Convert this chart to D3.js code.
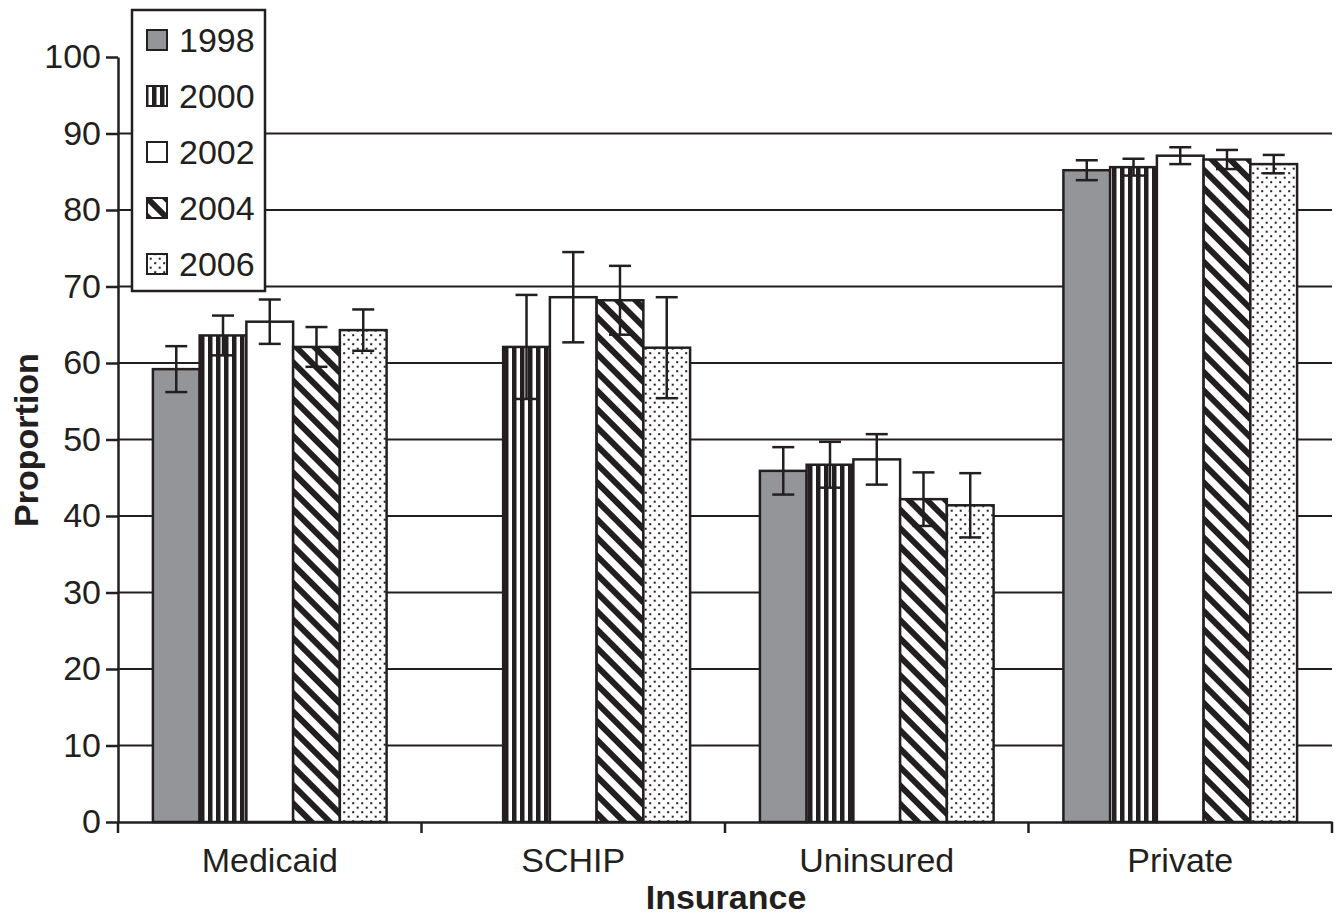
<!DOCTYPE html>
<html><head><meta charset="utf-8">
<script src="https://cdn.jsdelivr.net/npm/d3@7/dist/d3.min.js"></script>
<style>body{margin:0;background:#fff}svg{display:block}text{font-family:"Liberation Sans",Arial,sans-serif;fill:#231f20}</style>
</head><body><svg id="c" width="1342" height="917"></svg>
<script>
const categories = ["Medicaid", "SCHIP", "Uninsured", "Private"];
const years = ["1998", "2000", "2002", "2004", "2006"];
const values1998 = [59.2, null, 45.9, 85.2];
const values2000 = [63.6, 62.1, 46.7, 85.6];
const values2002 = [65.4, 68.6, 47.4, 87.1];
const values2004 = [62.1, 68.2, 42.2, 86.6];
const values2006 = [64.3, 62.0, 41.4, 86.0];
const errors1998 = [3.0, null, 3.1, 1.3];
const errors2000 = [2.6, 6.8, 3.0, 1.1];
const errors2002 = [2.9, 5.9, 3.3, 1.1];
const errors2004 = [2.6, 4.5, 3.5, 1.25];
const errors2006 = [2.7, 6.6, 4.2, 1.2];
const yTicks = [0,10,20,30,40,50,60,70,80,90,100];
const gridTicks = [10,20,30,40,50,60,70,80,90];

const seriesVals = [values1998, values2000, values2002, values2004, values2006];
const seriesErr = [errors1998, errors2000, errors2002, errors2004, errors2006];
const data = [];
categories.forEach((c, ci) => years.forEach((y, yi) => {
  if (seriesVals[yi][ci] != null) data.push({cat: c, year: y, yi, v: seriesVals[yi][ci], e: seriesErr[yi][ci]});
}));

const ink = "#231f20";
const FONT = "Liberation Sans, Arial, sans-serif";
const svg = d3.select("#c");
const defs = svg.append("defs");
// patterns
const pV = defs.append("pattern").attr("id","pat2000").attr("patternUnits","userSpaceOnUse").attr("width",8).attr("height",10);
pV.append("rect").attr("width",8).attr("height",10).attr("fill","#fff");
pV.append("rect").attr("x",0).attr("width",4.5).attr("height",10).attr("fill",ink);
const pD = defs.append("pattern").attr("id","pat2004").attr("patternUnits","userSpaceOnUse").attr("width",13).attr("height",10).attr("patternTransform","rotate(-45)");
pD.append("rect").attr("width",13).attr("height",10).attr("fill","#fff");
pD.append("rect").attr("x",0).attr("width",6).attr("height",10).attr("fill",ink);
const pS = defs.append("pattern").attr("id","pat2006").attr("patternUnits","userSpaceOnUse").attr("width",9).attr("height",9);
pS.append("rect").attr("width",9).attr("height",9).attr("fill","#fff");
pS.append("rect").attr("x",1.2).attr("y",1.2).attr("width",2).attr("height",2).attr("fill",ink);
pS.append("rect").attr("x",5.7).attr("y",5.7).attr("width",2).attr("height",2).attr("fill",ink);
const fills = {"1998":"#939598","2000":"url(#pat2000)","2002":"#ffffff","2004":"url(#pat2004)","2006":"url(#pat2006)"};

const y = d3.scaleLinear().domain([0,100]).range([822,57]);
const x0 = d3.scaleBand().domain(categories).range([118,1332]).padding(0);
const bw = x0.bandwidth();
const x1 = d3.scaleBand().domain(years).range([bw*0.115, bw*0.885]).padding(0);

// gridlines
svg.append("g").selectAll("line").data(gridTicks).join("line")
  .attr("x1",118).attr("x2",1332).attr("y1",d=>y(d)).attr("y2",d=>y(d))
  .attr("stroke",ink).attr("stroke-width",2);

// bars
svg.append("g").selectAll("rect").data(data).join("rect")
  .attr("x", d => x0(d.cat) + x1(d.year))
  .attr("width", x1.bandwidth())
  .attr("y", d => y(d.v))
  .attr("height", d => y(0) - y(d.v))
  .attr("fill", d => fills[d.year])
  .attr("stroke", ink).attr("stroke-width", 2.5);

// error bars
const eg = svg.append("g").attr("stroke", ink).attr("stroke-width", 2.5);
data.forEach(d => {
  const cx = x0(d.cat) + x1(d.year) + x1.bandwidth()/2;
  eg.append("line").attr("x1",cx).attr("x2",cx).attr("y1",y(d.v+d.e)).attr("y2",y(d.v-d.e));
  eg.append("line").attr("x1",cx-11).attr("x2",cx+11).attr("y1",y(d.v+d.e)).attr("y2",y(d.v+d.e));
  eg.append("line").attr("x1",cx-11).attr("x2",cx+11).attr("y1",y(d.v-d.e)).attr("y2",y(d.v-d.e));
});

// y axis
const yAxis = svg.append("g").attr("transform","translate(118,0)")
  .call(d3.axisLeft(y).tickValues(yTicks).tickSize(12).tickPadding(5).tickSizeOuter(0));
yAxis.select(".domain").attr("stroke",ink).attr("stroke-width",2.5);
yAxis.selectAll(".tick line").attr("stroke",ink).attr("stroke-width",2.5);
yAxis.selectAll(".tick text").attr("font-size",34).attr("font-family",FONT).attr("fill",ink);

// x axis
const xAxis = svg.append("g").attr("transform","translate(0,822)")
  .call(d3.axisBottom(x0).tickSize(0).tickPadding(26).tickSizeOuter(0));
xAxis.select(".domain").attr("stroke",ink).attr("stroke-width",2.5);
xAxis.selectAll(".tick text").attr("font-size",34).attr("font-family",FONT).attr("fill",ink);
const bounds = categories.map(c => x0(c)).concat([x0(categories[categories.length-1]) + bw]);
svg.append("g").selectAll("line").data(bounds).join("line")
  .attr("x1",d=>d).attr("x2",d=>d).attr("y1",822).attr("y2",833)
  .attr("stroke",ink).attr("stroke-width",2.5);

// axis titles
svg.append("text").attr("x",726).attr("y",909).attr("text-anchor","middle")
  .attr("font-size",34).attr("font-weight","bold").text("Insurance");
svg.append("text").attr("transform","translate(38,440) rotate(-90)").attr("text-anchor","middle")
  .attr("font-size",34).attr("font-weight","bold").text("Proportion");

// legend
const lg = svg.append("g");
lg.append("rect").attr("x",132).attr("y",10).attr("width",133).attr("height",281)
  .attr("fill","#fff").attr("stroke",ink).attr("stroke-width",2.5);
years.forEach((yr, i) => {
  const cy = 40 + i*56;
  lg.append("rect").attr("x",147).attr("y",cy-10).attr("width",20).attr("height",20)
    .attr("fill",fills[yr]).attr("stroke",ink).attr("stroke-width",2);
  lg.append("text").attr("x",179).attr("y",cy+12).attr("font-size",34).text(yr);
});
</script></body></html>
